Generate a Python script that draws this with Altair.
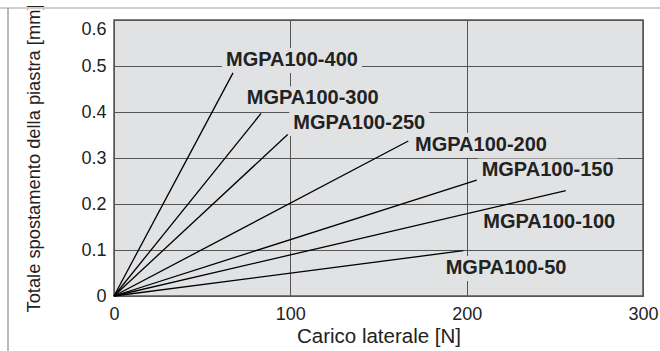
import altair as alt
import pandas as pd

series = ["MGPA100-400", "MGPA100-300", "MGPA100-250", "MGPA100-200",
          "MGPA100-150", "MGPA100-100", "MGPA100-50"]
end_x = [67.5, 83.4, 98.5, 166.9, 205.7, 256.2, 198.1]
end_y = [0.485, 0.397, 0.351, 0.337, 0.252, 0.229, 0.0985]
label_x = [63.5, 75.3, 101.7, 170.7, 208.5, 209.4, 188.1]
label_y = [0.513, 0.430, 0.376, 0.329, 0.273, 0.160, 0.061]
x_ticks = [0, 100, 200, 300]
y_ticks = [0, 0.1, 0.2, 0.3, 0.4, 0.5, 0.6]

rows = []
for s, ex, ey in zip(series, end_x, end_y):
    rows.append({"series": s, "load": 0.0, "disp": 0.0, "order": 0})
    rows.append({"series": s, "load": ex, "disp": ey, "order": 1})
lines_df = pd.DataFrame(rows)
labels_df = pd.DataFrame({"series": series, "lx": label_x, "ly": label_y})

FONT = "Liberation Sans"
BG = "#e1e2e4"
GRID = "#555555"
TXT = "#222222"

xs = alt.Scale(domain=[0, 300], nice=False, zero=False)
ys = alt.Scale(domain=[0, 0.6], nice=False, zero=False)

x_axis = alt.Axis(values=x_ticks, grid=True, gridColor=GRID, gridWidth=1, gridOpacity=1,
                  domain=False, ticks=False, labelFlush=False, labelPadding=9,
                  labelFontSize=18, labelFont=FONT, labelColor=TXT,
                  title="Carico laterale [N]", titleFont=FONT, titleFontSize=20.5,
                  titleFontWeight="normal", titleColor=TXT, titlePadding=3)
y_axis = alt.Axis(values=y_ticks, grid=True, gridColor=GRID, gridWidth=1, gridOpacity=1,
                  domain=False, ticks=False, labelFlush=False, labelPadding=8,
                  labelFontSize=18, labelFont=FONT, labelColor=TXT,
                  labelExpr="datum.value == 0 ? '0' : format(datum.value, '.1f')",
                  labelBaseline={"expr": "datum.value >= 0.6 ? 'top' : 'middle'"},
                  title="Totale spostamento della piastra [mm]", titleFont=FONT,
                  titleFontSize=18.3, titleFontWeight="normal", titleColor=TXT,
                  titlePadding=37)

lines = alt.Chart(lines_df).mark_line(color="black", strokeWidth=1.3).encode(
    x=alt.X("load:Q", scale=xs, axis=x_axis),
    y=alt.Y("disp:Q", scale=ys, axis=y_axis),
    detail="series:N",
    order="order:Q",
)

boxes = alt.Chart(labels_df).mark_rect(
    color=BG, xOffset=-4, x2Offset=136, yOffset=-12, y2Offset=13
).encode(
    x=alt.X("lx:Q", scale=xs, axis=x_axis),
    x2="lx:Q",
    y=alt.Y("ly:Q", scale=ys, axis=y_axis),
    y2="ly:Q",
)

texts = alt.Chart(labels_df).mark_text(
    align="left", baseline="middle", fontSize=20, fontWeight="bold", font=FONT, color=TXT
).encode(
    x=alt.X("lx:Q", scale=xs, axis=x_axis),
    y=alt.Y("ly:Q", scale=ys, axis=y_axis),
    text="series:N",
)

frame_df = pd.DataFrame({"a": [0]})
top_line = alt.Chart(frame_df).mark_rule(color="#cfcfcf", strokeWidth=2).encode(
    x=alt.value(-114), x2=alt.value(546), y=alt.value(-12)
)
left_line = alt.Chart(frame_df).mark_rule(color="#8c8c8c", strokeWidth=1.2).encode(
    x=alt.value(-106), y=alt.value(-12), y2=alt.value(331)
)

chart = alt.layer(boxes, lines, texts, top_line, left_line).properties(
    width=529, height=276,
    background="white",
    autosize=alt.AutoSizeParams(type="none"),
    padding={"left": 114, "top": 20, "right": 17, "bottom": 55},
).configure_view(
    fill=BG, stroke=GRID, strokeWidth=1.5
)

chart.save("out.html", embed_options={"renderer": "svg", "actions": False})
